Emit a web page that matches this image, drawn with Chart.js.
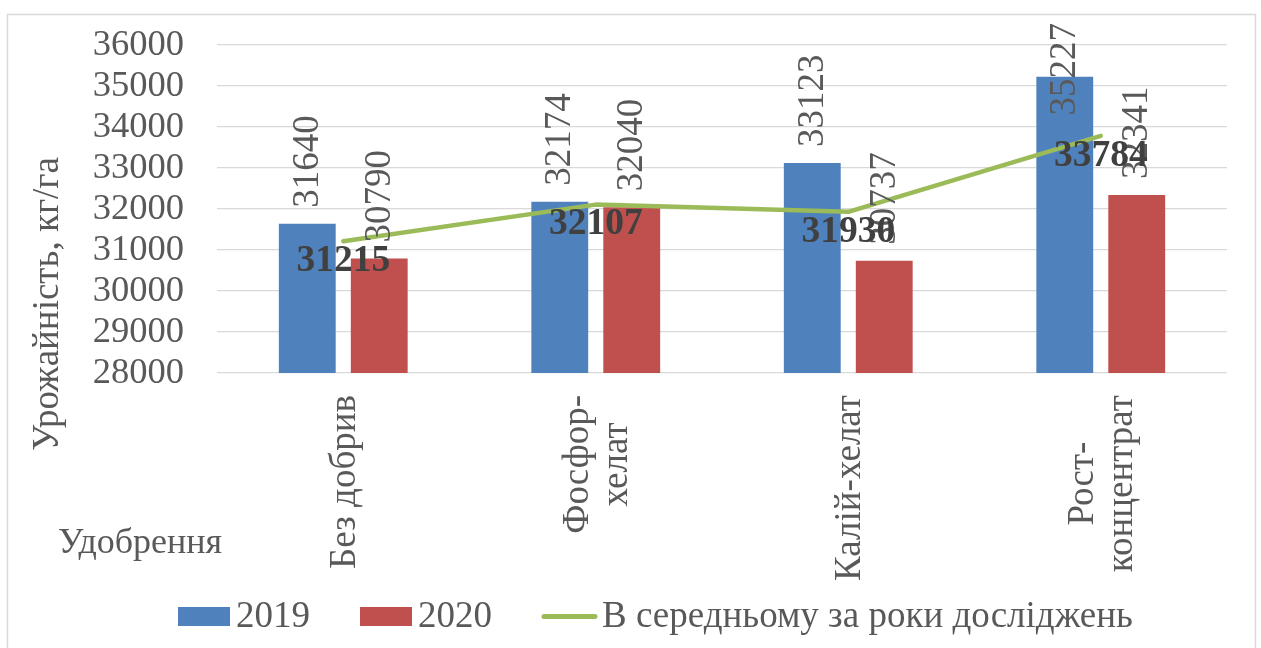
<!DOCTYPE html>
<html><head><meta charset="utf-8">
<script src="https://cdn.jsdelivr.net/npm/chart.js@4.4.1/dist/chart.umd.min.js"></script>
<style>html,body{margin:0;padding:0;background:#fff;} #wrap{width:1261px;height:648px;}</style>
</head><body><div id="wrap"><canvas id="c" width="1261" height="648"></canvas></div>
<script>
const categories = [["Без добрив"], ["Фосфор-", "хелат"], ["Калій-хелат"], ["Рост-", "концентрат"]];
const values2019 = [31640, 32174, 33123, 35227];
const values2020 = [30790, 32040, 30737, 32341];
const valuesAvg = [31215, 32107, 31930, 33784];
const seriesNames = ["2019", "2020", "В середньому за роки досліджень"];
const yAxisTitle = "Урожайність, кг/га";
const xAxisTitle = "Удобрення";
const yMin = 28000, yMax = 36000, yStep = 1000;

const FONT = "'Liberation Serif','Times New Roman',serif";
const GRAY = '#595959';
const DARK = '#404040';

const deco = {
  id: 'deco',
  beforeDraw(chart) {
    const ctx = chart.ctx;
    ctx.save();
    ctx.fillStyle = '#fff';
    ctx.fillRect(0, 0, chart.width, chart.height);
    ctx.strokeStyle = '#d9d9d9';
    ctx.lineWidth = 1.5;
    ctx.strokeRect(7.5, 14.5, 1248, 700);
    ctx.restore();
  },
  afterDatasetsDraw(chart) {
    const ctx = chart.ctx;
    ctx.save();
    // bar value labels (rotated)
    ctx.font = '37px ' + FONT;
    ctx.fillStyle = GRAY;
    [0, 1].forEach(d => {
      const meta = chart.getDatasetMeta(d);
      meta.data.forEach((el, i) => {
        const txt = String(chart.data.datasets[d].data[i]);
        const w = ctx.measureText(txt).width;
        const start = Math.max(el.y - 16, chart.chartArea.top - 22 + w);
        ctx.save();
        ctx.translate(el.x + 1, start);
        ctx.rotate(-Math.PI / 2);
        ctx.textAlign = 'left';
        ctx.textBaseline = 'middle';
        ctx.fillText(txt, 0, 0);
        ctx.restore();
      });
    });
    // line labels (bold, below point)
    ctx.font = 'bold 37.5px ' + FONT;
    ctx.fillStyle = DARK;
    ctx.textAlign = 'center';
    ctx.textBaseline = 'middle';
    const lm = chart.getDatasetMeta(2);
    lm.data.forEach((el, i) => {
      ctx.fillText(String(chart.data.datasets[2].data[i]), el.x, el.y + 20);
    });
    ctx.restore();
  },
  afterDraw(chart) {
    const ctx = chart.ctx;
    const xs = chart.scales.x;
    ctx.save();
    ctx.fillStyle = GRAY;
    ctx.font = '37px ' + FONT;
    // category labels, rotated, lines centred on each other
    const lineH = 39;
    categories.forEach((lines, i) => {
      const x = xs.getPixelForValue(i);
      let maxW = 0;
      lines.forEach(l => { maxW = Math.max(maxW, ctx.measureText(l).width); });
      const cy = chart.chartArea.bottom + 22 + maxW / 2;
      lines.forEach((l, j) => {
        const lx = x + 2 + (j - (lines.length - 1) / 2) * lineH;
        ctx.save();
        ctx.translate(lx, cy);
        ctx.rotate(-Math.PI / 2);
        ctx.textAlign = 'center';
        ctx.textBaseline = 'middle';
        ctx.fillText(l, 0, 0);
        ctx.restore();
      });
    });
    // y axis title
    ctx.save();
    ctx.translate(48, 304);
    ctx.rotate(-Math.PI / 2);
    ctx.textAlign = 'center';
    ctx.textBaseline = 'middle';
    ctx.fillText(yAxisTitle, 0, 0);
    ctx.restore();
    // x axis title
    ctx.font = '36px ' + FONT;
    ctx.textAlign = 'left';
    ctx.textBaseline = 'alphabetic';
    ctx.fillText(xAxisTitle, 58, 553);
    // legend
    ctx.font = '37px ' + FONT;
    let pos = 178;
    const ly = 616.5;
    ctx.textBaseline = 'middle';
    chart.data.datasets.forEach((ds, d) => {
      if (ds.type === 'line') {
        ctx.save();
        ctx.strokeStyle = ds.borderColor;
        ctx.lineWidth = 5;
        ctx.lineCap = 'round';
        ctx.beginPath();
        ctx.moveTo(pos + 2, ly);
        ctx.lineTo(pos + 53, ly);
        ctx.stroke();
        ctx.restore();
        pos += 60;
      } else {
        ctx.fillStyle = ds.backgroundColor;
        ctx.fillRect(pos, ly - 9.5, 52, 19);
        pos += 58;
      }
      ctx.fillStyle = GRAY;
      ctx.fillText(ds.label, pos, ly + 1);
      pos += ctx.measureText(ds.label).width + 50;
    });
    ctx.restore();
  }
};

new Chart(document.getElementById('c'), {
  type: 'bar',
  data: {
    labels: categories,
    datasets: [
      { label: seriesNames[0], data: values2019, backgroundColor: '#4F81BD', order: 1,
        categoryPercentage: 0.57, barPercentage: 0.79 },
      { label: seriesNames[1], data: values2020, backgroundColor: '#C0504D', order: 1,
        categoryPercentage: 0.57, barPercentage: 0.79 },
      { type: 'line', label: seriesNames[2], data: valuesAvg, borderColor: '#9BBB59',
        backgroundColor: '#9BBB59', borderWidth: 4.5, pointRadius: 0, tension: 0, order: 0,
        borderCapStyle: 'round', borderJoinStyle: 'round' }
    ]
  },
  options: {
    responsive: false,
    animation: false,
    devicePixelRatio: 1,
    layout: { padding: { left: 0, top: 45, right: 34, bottom: 0 } },
    plugins: { legend: { display: false }, tooltip: { enabled: false } },
    scales: {
      x: {
        grid: { display: false },
        border: { display: false },
        ticks: { display: false },
        afterFit(s) { s.height = 275; s.paddingLeft = 0; s.paddingRight = 0; }
      },
      y: {
        min: yMin, max: yMax,
        ticks: {
          stepSize: yStep, autoSkip: false, padding: 33, color: GRAY,
          font: { family: FONT, size: 36.5 },
          callback: v => String(v)
        },
        grid: { color: '#d9d9d9', lineWidth: 1.3, drawTicks: false },
        border: { display: false },
        afterFit(s) { s.width = 217; s.paddingTop = 0; s.paddingBottom = 0; }
      }
    }
  },
  plugins: [deco]
});
</script>
</body></html>
